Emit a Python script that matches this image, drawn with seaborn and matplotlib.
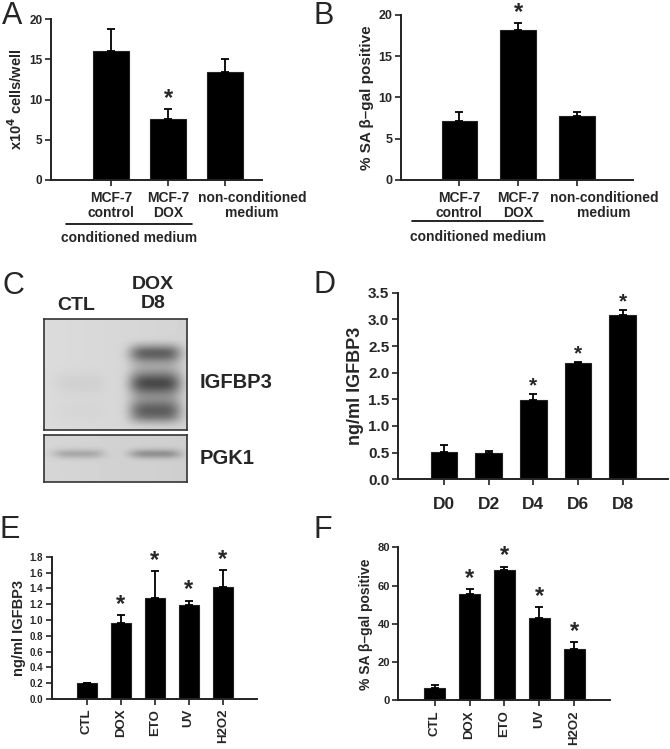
import matplotlib
matplotlib.use('Agg')
import matplotlib.pyplot as plt
import matplotlib.transforms as mtransforms
import numpy as np
import pandas as pd
import seaborn as sns

W, H = 670, 749

# A: cell counts in conditioned medium
a_groups = ['MCF-7\ncontrol', 'MCF-7\nDOX', 'non-conditioned\nmedium']
a_cells = [16.05, 7.6, 13.45]
a_err = [2.65, 1.25, 1.55]
a_star = [False, True, False]

# B: SA beta-gal positive in conditioned medium
b_groups = ['MCF-7\ncontrol', 'MCF-7\nDOX', 'non-conditioned\nmedium']
b_sagal = [7.15, 18.15, 7.8]
b_err = [1.1, 0.8, 0.4]
b_star = [False, True, False]

# C: western blot (lane band strengths, arbitrary)
blot_lanes = ['CTL', 'DOX\nD8']
igfbp3_strength = [[0.0, 0.035, 0.015], [0.33, 0.42, 0.34]]
pgk1_strength = [0.17, 0.25]

# D: IGFBP3 time course
d_days = ['D0', 'D2', 'D4', 'D6', 'D8']
d_igfbp3 = [0.52, 0.49, 1.48, 2.19, 3.08]
d_err = [0.125, 0.05, 0.125, 0.015, 0.1]
d_star = [False, False, True, True, True]

# E: IGFBP3 after treatments
e_treat = ['CTL', 'DOX', 'ETO', 'UV', 'H2O2']
e_igfbp3 = [0.2, 0.96, 1.28, 1.19, 1.42]
e_err = [0.0, 0.1, 0.34, 0.055, 0.21]
e_star = [False, True, True, True, True]

# F: SA beta-gal after treatments
f_treat = ['CTL', 'DOX', 'ETO', 'UV', 'H2O2']
f_sagal = [6.6, 55.7, 68.0, 42.9, 26.7]
f_err = [1.6, 2.3, 1.9, 5.9, 3.9]
f_star = [False, True, True, True, True]

sns.set_style('ticks')
plt.rcParams['font.family'] = ['Liberation Sans', 'DejaVu Sans']
plt.rcParams['font.weight'] = 'bold'
plt.rcParams['axes.labelweight'] = 'bold'

fig = plt.figure(figsize=(W / 100, H / 100), dpi=100)


def rect_px(left, right, top, bottom):
    # pixel box -> figure fraction rect
    return [left / W, 1 - bottom / H, (right - left) / W, (bottom - top) / H]


def bar_panel(rect, labels, values, errs, stars, ylim, yticks, xlim, width,
              ylabel, tick_fs, xlab_fs, ylab_fs, star_fs, star_off,
              fmt='{:g}', rotate=False, xpad=4):
    ax = fig.add_axes(rect)
    df = pd.DataFrame({'group': labels, 'value': values})
    sns.barplot(data=df, x='group', y='value', color='black', saturation=1,
                width=width, edgecolor='#222222', linewidth=0.8, ax=ax)
    n = len(values)
    ax.errorbar(range(n), values, yerr=[np.zeros(n), errs], fmt='none',
                ecolor='black', elinewidth=1.3, capsize=3, capthick=1.3)
    for i in range(n):
        if stars[i]:
            ax.annotate('*', (i, values[i] + errs[i]), xytext=(0, star_off),
                        textcoords='offset points', ha='center', va='baseline',
                        fontsize=star_fs, fontweight='bold')
    ax.set_xlim(*xlim)
    ax.set_ylim(*ylim)
    ax.set_yticks(yticks)
    ax.set_yticklabels([fmt.format(t) for t in yticks], fontsize=tick_fs)
    ax.set_xlabel('')
    ax.set_ylabel(ylabel, fontsize=ylab_fs, labelpad=3)
    ax.set_xticks(range(n))
    ax.set_xticklabels(labels, fontsize=xlab_fs, rotation=90 if rotate else 0,
                       linespacing=1.05)
    ax.tick_params(axis='both', direction='out', length=4, width=1.2, color='#222222')
    ax.tick_params(axis='x', pad=xpad)
    ax.tick_params(axis='y', pad=2)
    for s in ['top', 'right']:
        ax.spines[s].set_visible(False)
    for s in ['left', 'bottom']:
        ax.spines[s].set_linewidth(1.4)
        ax.spines[s].set_color('#222222')
    return ax


def conditioned_bracket(ax, y_line, y_text):
    tr = mtransforms.blended_transform_factory(ax.transData, ax.transAxes)
    ax.plot([-0.8, 1.42], [y_line, y_line], color='black', lw=1.2,
            transform=tr, clip_on=False)
    ax.text(0.31, y_text, 'conditioned medium', transform=tr, ha='center',
            va='center', fontsize=10)
    # the wide third label sits right of its bar in the original
    lab = ax.get_xticklabels()[2]
    lab.set_transform(lab.get_transform() +
                      mtransforms.ScaledTranslation(27 / 100, 0, fig.dpi_scale_trans))


# Panel A
ax_a = bar_panel(rect_px(50.7, 262, 19, 180), a_groups, a_cells, a_err, a_star,
                 (0, 20), [0, 5, 10, 15, 20], (-1.06, 2.65), 0.63,
                 'x10$^{\\mathbf{4}}$ cells/well', 8.5, 10, 10.5, 17, 3)
conditioned_bracket(ax_a, -0.273, -0.36)

# Panel B
ax_b = bar_panel(rect_px(400.7, 632.7, 14.7, 180), b_groups, b_sagal, b_err, b_star,
                 (0, 20), [0, 5, 10, 15, 20], (-1.0, 2.95), 0.61,
                 '% SA β–gal positive', 9, 10, 11, 17, 3)
conditioned_bracket(ax_b, -0.248, -0.345)

# Panel D
ax_d = bar_panel(rect_px(397.7, 668, 292.7, 479.3), d_days, d_igfbp3, d_err, d_star,
                 (0, 3.5), [0, 0.5, 1, 1.5, 2, 2.5, 3, 3.5], (-1.04, 5.02), 0.6,
                 'ng/ml IGFBP3', 11, 12.5, 13, 15, 2, fmt='{:.1f}', xpad=9)

# Panel E
ax_e = bar_panel(rect_px(51.7, 256.7, 556.7, 699), e_treat, e_igfbp3, e_err, e_star,
                 (0, 1.8), np.round(np.arange(0, 1.81, 0.2), 1), (-1.03, 5.0), 0.59,
                 'ng/ml IGFBP3', 7, 9.5, 10.5, 17, 3, fmt='{:.1f}', rotate=True, xpad=3)

# Panel F
ax_f = bar_panel(rect_px(398.3, 610, 547.3, 700.3), f_treat, f_sagal, f_err, f_star,
                 (0, 80), [0, 20, 40, 60, 80], (-1.04, 5.02), 0.6,
                 '% SA β–gal positive', 8, 9.5, 10, 17, 3, rotate=True, xpad=3)

# Panel C: western blot drawn as image
lane_x = [0.24, 0.78]


def blot_image(strengths, rows, widths, nrows, ncols, base):
    yy = np.linspace(0, 1, nrows)[:, None]
    xx = np.linspace(0, 1, ncols)[None, :]
    img = np.full((nrows, ncols), base) - 0.03 * xx
    for cx, sig in zip(lane_x, strengths):
        lane = np.exp(-((xx - cx) / 0.18) ** 4)
        for r, s, w in zip(rows, sig, widths):
            img = img - s * lane * np.exp(-((yy - r) / w) ** 2)
    return img


img_igf = blot_image(igfbp3_strength, [0.31, 0.58, 0.83], [0.075, 0.1, 0.1], 111, 143, 0.86)
# smear under the DOX lane
yy = np.linspace(0, 1, 111)[:, None]
xx = np.linspace(0, 1, 143)[None, :]
smear = np.clip((yy - 0.18) / 0.1, 0, 1) * np.clip((0.97 - yy) / 0.08, 0, 1)
img_igf -= 0.13 * np.exp(-((xx - lane_x[1]) / 0.18) ** 4) * smear
img_pgk = blot_image([[s] for s in pgk1_strength], [0.4], [0.1], 47, 143, 0.84)

for img, box in [(img_igf, (44, 187, 319, 430)), (img_pgk, (44, 187, 435, 482))]:
    axb = fig.add_axes(rect_px(*box))
    axb.imshow(img, cmap='gray', vmin=0, vmax=1, aspect='auto', interpolation='bilinear')
    axb.set_xticks([])
    axb.set_yticks([])
    for s in axb.spines.values():
        s.set_color('#333333')
        s.set_linewidth(1.2)

fig.text(76 / W, 1 - 305 / H, blot_lanes[0], ha='center', va='center', fontsize=14)
fig.text(153 / W, 1 - 294 / H, blot_lanes[1], ha='center', va='center', fontsize=14,
         linespacing=1.1)
fig.text(200 / W, 1 - 382 / H, 'IGFBP3', ha='left', va='center', fontsize=14.5)
fig.text(200 / W, 1 - 459 / H, 'PGK1', ha='left', va='center', fontsize=14.5)

# panel letters
for letter, x, y in [('A', 2, 16), ('B', 313, 16), ('C', 3, 286), ('D', 313, 285),
                     ('E', 0, 530), ('F', 313, 530)]:
    fig.text(x / W, 1 - y / H, letter, ha='left', va='center', fontsize=22,
             fontweight='normal')

fig.savefig('out.png', dpi=100)
